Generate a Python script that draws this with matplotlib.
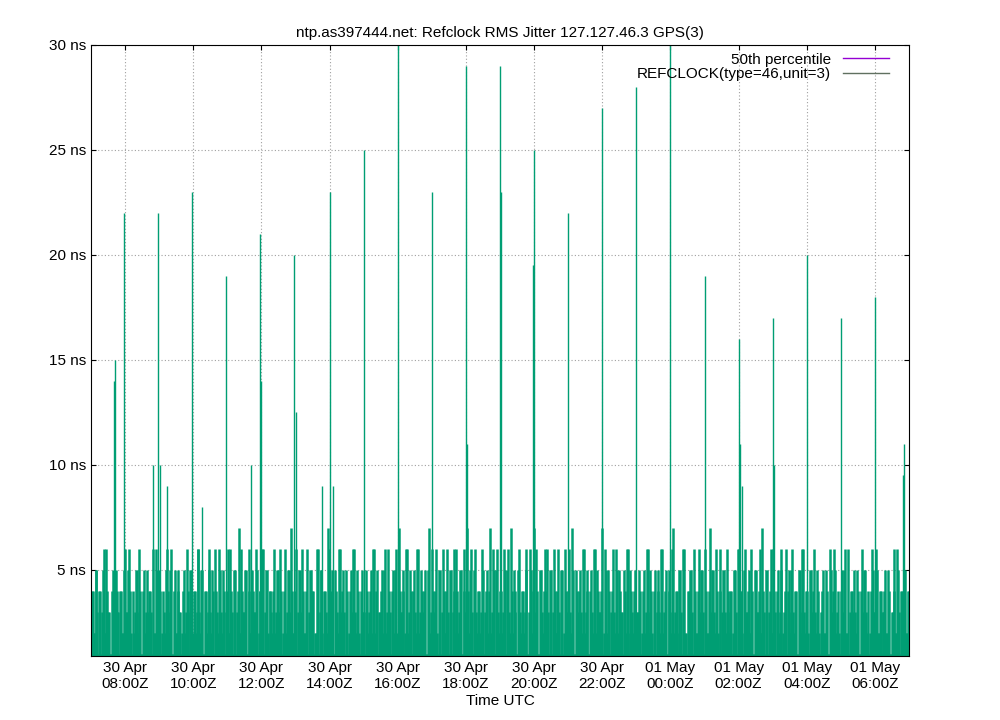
import numpy as np
import matplotlib.pyplot as plt
import matplotlib.dates as mdates
from datetime import datetime, timedelta

plt.rcParams['font.family'] = 'Liberation Sans'

start = datetime(2024, 4, 30, 7, 0)
end = datetime(2024, 5, 1, 7, 0)

# base jitter samples spread over the day, ns (typed by eye from the picture)
base_str = (
    "34251436243152434253162435241532436251423542615243"
    "25341524362514352463152436241537243516243524615243"
    "42536142537241536241534261524372415362435142635241"
    "35241625341526341527341625143625341526342516243516"
    "24351624531624351427351624351624531624351627341526"
    "43516243516243715243625143625341625143625314625341"
    "35142635241536241536241536214536241536241536241536"
    "24153624163524153624153624153624153624153624153624"
    "13524153624153621435241635214536241352413625143524"
)
base = [int(c) for c in base_str]

# larger spikes: (hours after 07:00, ns)
spike_h = [0.7, 0.67, 0.97, 1.82, 1.97, 2.03, 2.24, 2.97, 3.26, 3.97, 4.68, 4.97,
           5.0, 5.97, 6.0, 6.79, 7.0, 7.09, 8.0, 9.0, 10.0, 11.0, 11.03, 12.0,
           12.03, 12.97, 13.0, 14.0, 15.0, 16.0, 17.0, 18.0, 19.0, 19.03, 19.1,
           20.0, 20.03, 21.0, 22.0, 23.0, 23.85, 23.82]
spike_v = [15, 14, 22, 10, 22, 10, 9, 23, 8, 19, 10, 21,
           14, 20, 12.5, 9, 23, 9, 25, 30, 23, 29, 11, 29,
           23, 19.5, 25, 22, 27, 28, 30, 19, 16, 11, 9,
           17, 10, 20, 17, 18, 11, 9.5]

fig = plt.figure(figsize=(10, 7.2), dpi=100)
ax = fig.add_axes([0.091, 0.089, 0.818, 0.8486])

t0 = mdates.date2num(start)
t1 = mdates.date2num(end)
n = len(base)
ta = np.linspace(t0, t1, n)
tb = ta + (t1 - t0) / n / 2
ax.vlines(ta, 0, base, color='#009e73', lw=1.8)
ax.vlines(tb, 0, base[::-1], color='#009e73', lw=1.8)
ts = [start + timedelta(hours=h) for h in spike_h]
ax.vlines(ts, 0, spike_v, color='#009e73', lw=1)

ax.plot([], [], color='#9400d3', lw=1, label='50th percentile')
ax.plot([], [], color='#607060', lw=1, label='REFCLOCK(type=46,unit=3)')
ax.legend(loc='upper right', frameon=False, markerfirst=False, fontsize=11,
          handlelength=3, borderaxespad=0.1, labelspacing=0.05,
          bbox_to_anchor=(0.985, 1.0))

ax.set_xlim(start, end)
ax.set_ylim(0.9, 30)
ax.set_yticks([5, 10, 15, 20, 25, 30])
ax.set_yticklabels(['%d ns' % v for v in [5, 10, 15, 20, 25, 30]])
ticks = [start + timedelta(hours=1 + 2 * i) for i in range(12)]
ax.set_xticks(ticks)
ax.set_xticklabels([d.strftime('%d %b\n%H:%MZ') for d in ticks])
ax.tick_params(direction='in', top=True, right=True, labelsize=11)
ax.grid(True, color='#a0a0a0', linestyle=(0, (1, 2)), lw=0.8)
ax.set_xlabel('Time UTC', fontsize=11, labelpad=2)
ax.set_title('ntp.as397444.net: Refclock RMS Jitter 127.127.46.3 GPS(3)', fontsize=11)

fig.savefig('out.png')
